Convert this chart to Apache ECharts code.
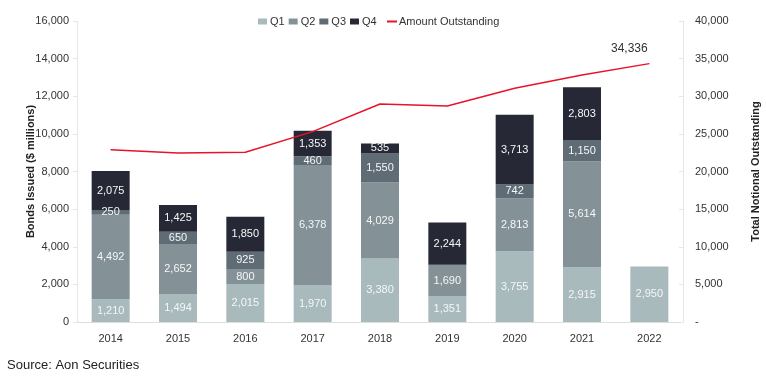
<!DOCTYPE html>
<html>
<head>
<meta charset="utf-8">
<script src="https://cdn.jsdelivr.net/npm/echarts@6/dist/echarts.min.js"></script>
<style>html,body{margin:0;padding:0;background:#fff}#c{width:766px;height:383px}</style>
</head>
<body>
<div id="c"></div>
<script>
var years = ['2014','2015','2016','2017','2018','2019','2020','2021','2022'];
var q1 = [1210, 1494, 2015, 1970, 3380, 1351, 3755, 2915, 2950];
var q2 = [4492, 2652, 800, 6378, 4029, 1690, 2813, 5614, null];
var q3 = [250, 650, 925, 460, 1550, null, 742, 1150, null];
var q4 = [2075, 1425, 1850, 1353, 535, 2244, 3713, 2803, null];
var outstanding = [22900, 22460, 22550, 25300, 28970, 28700, 31050, 32820, 34336];
var leftTicks = [0, 2000, 4000, 6000, 8000, 10000, 12000, 14000, 16000];
var rightTicks = [0, 5000, 10000, 15000, 20000, 25000, 30000, 35000, 40000];

var font = 'Liberation Sans, Arial, sans-serif';
function fmt(v){ return v.toLocaleString('en-US'); }
var labelStyle = {show:true, position:'inside', color:'#f4f6f7', fontSize:11, fontFamily:font,
  formatter:function(p){ return (p.value==null||p.value===0)?'':fmt(p.value); }};

function bar(name, data, color){
  return {name:name, type:'bar', stack:'q', data:data, barWidth:38,
    itemStyle:{color:color}, label:labelStyle, labelLayout:{hideOverlap:false}, emphasis:{disabled:true}};
}

var chart = echarts.init(document.getElementById('c'));
chart.setOption({
  animation:false,
  textStyle:{fontFamily:font},
  legend:[
    {top:16, left:258, itemGap:4, itemWidth:9, itemHeight:6, padding:0,
      textStyle:{fontSize:11, color:'#333', fontFamily:font, padding:[0,0,0,-2]},
      data:[{name:'Q1',icon:'rect'},{name:'Q2',icon:'rect'},{name:'Q3',icon:'rect'},{name:'Q4',icon:'rect'}]},
    {top:16, left:387, itemWidth:10, itemHeight:2, padding:0,
      textStyle:{fontSize:11, color:'#333', fontFamily:font, padding:[0,0,0,-3]},
      data:[{name:'Amount Outstanding', icon:'rect'}]}
  ],
  grid:{left:77, right:83, top:21, bottom:61, outerBoundsMode:'none', containLabel:false},
  xAxis:{type:'category', data:years,
    axisLine:{lineStyle:{color:'#ddd'}}, axisTick:{show:false},
    axisLabel:{color:'#333', fontSize:11, margin:11, fontFamily:font}},
  yAxis:[
    {type:'value', min:leftTicks[0], max:leftTicks[leftTicks.length-1], interval:2000,
      name:'Bonds Issued ($ millions)', nameLocation:'middle', nameGap:41, nameRotate:90, nameMoveOverlap:false,
      nameTextStyle:{fontWeight:'bold', fontSize:11, color:'#222', fontFamily:font},
      axisLine:{show:true, lineStyle:{color:'#e6e6e6'}}, axisTick:{show:true, length:4, lineStyle:{color:'#e6e6e6'}},
      splitLine:{show:false},
      axisLabel:{color:'#333', fontSize:11, margin:8, formatter:function(v){return fmt(v);}}},
    {type:'value', min:rightTicks[0], max:rightTicks[rightTicks.length-1], interval:5000,
      name:'Total Notional Outstanding', nameLocation:'middle', nameGap:67, nameRotate:90, nameMoveOverlap:false,
      nameTextStyle:{fontWeight:'bold', fontSize:11, color:'#222', fontFamily:font},
      axisLine:{show:true, lineStyle:{color:'#e6e6e6'}}, axisTick:{show:true, length:4, inside:true, lineStyle:{color:'#e6e6e6'}},
      splitLine:{show:false},
      axisLabel:{color:'#333', fontSize:11, margin:12, formatter:function(v){return v===0?'-':fmt(v);}}}
  ],
  series:[
    bar('Q1', q1, '#a9babd'),
    bar('Q2', q2, '#849297'),
    bar('Q3', q3, '#5f6c75'),
    bar('Q4', q4, '#262835'),
    {name:'Amount Outstanding', type:'line', yAxisIndex:1, data:outstanding,
      symbol:'circle', symbolSize:0.5, showSymbol:true,
      lineStyle:{color:'#e8132a', width:1.5}, itemStyle:{color:'#e8132a'},
      emphasis:{disabled:true}, z:5,
      label:{show:true, position:'top', distance:9, offset:[-20,0], color:'#333', fontSize:12, fontFamily:font,
        formatter:function(p){ return p.dataIndex === outstanding.length - 1 ? fmt(p.value) : ''; }}}
  ],
  graphic:[{type:'text', left:7, top:359, style:{text:'Source: Aon Securities', fontSize:13, fill:'#222', fontFamily:font}}]
});
</script>
</body>
</html>
